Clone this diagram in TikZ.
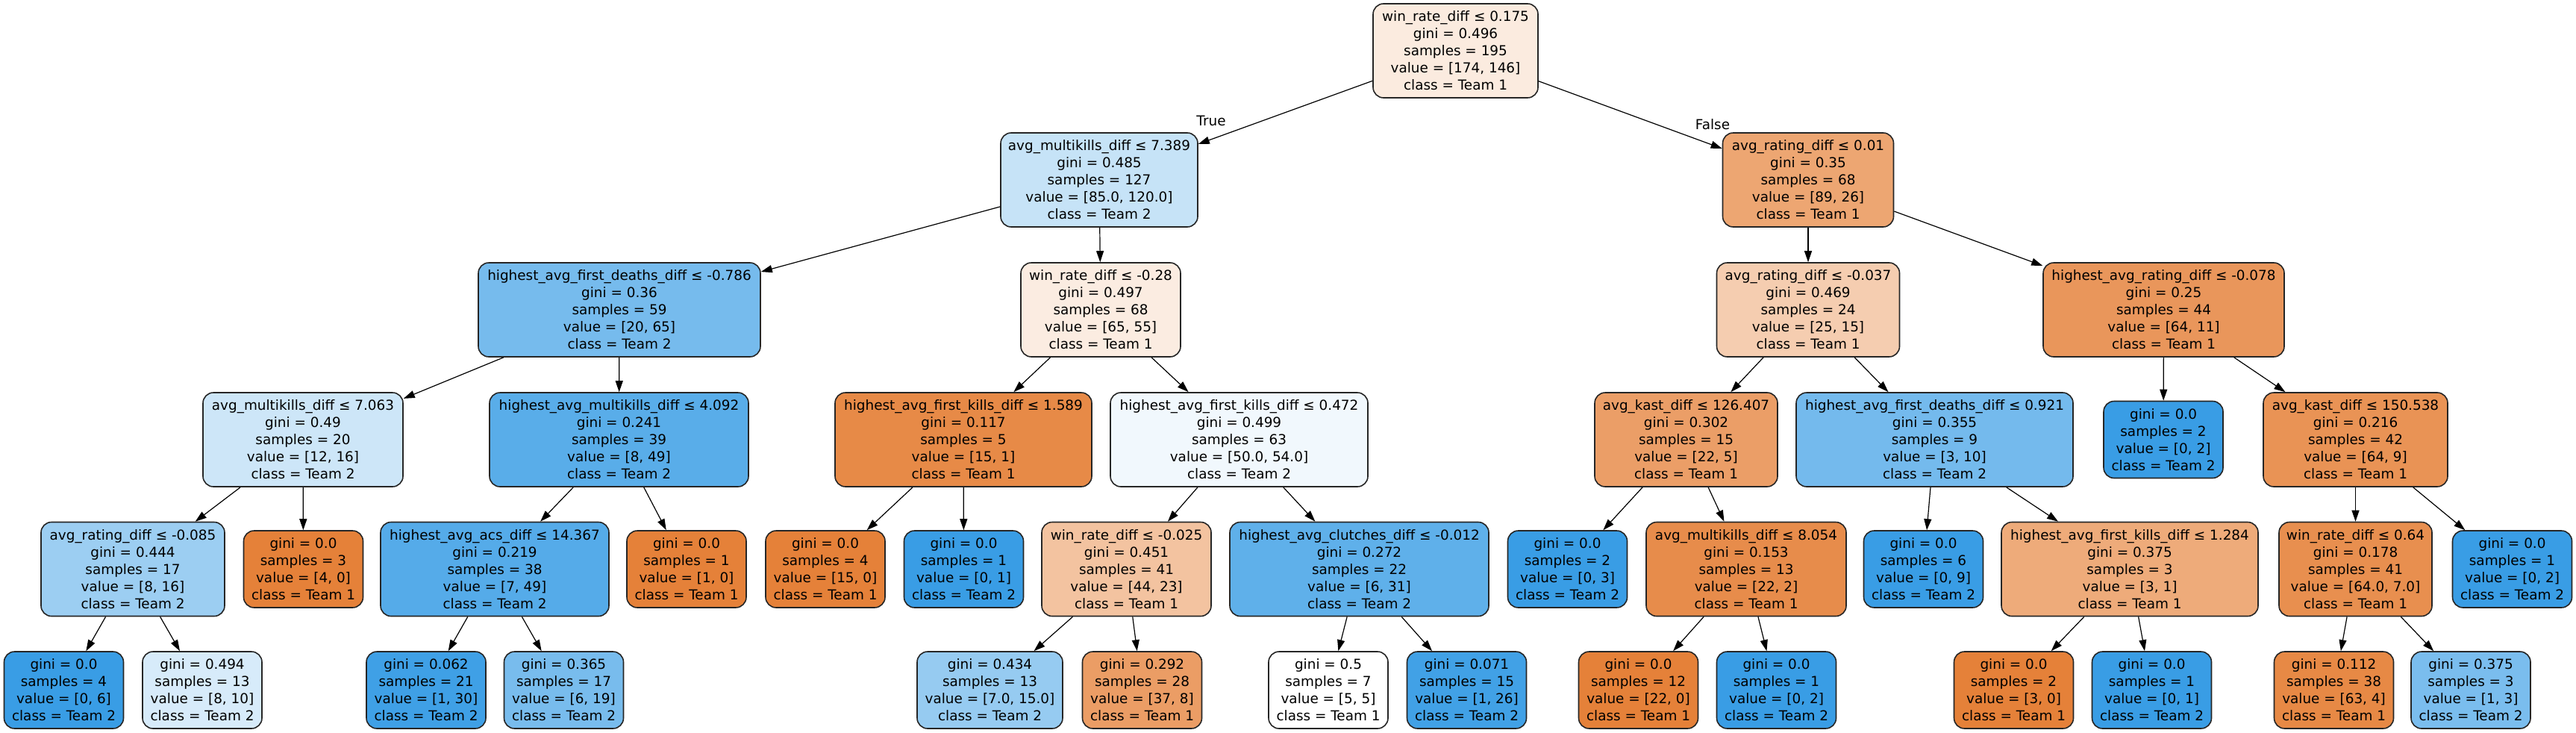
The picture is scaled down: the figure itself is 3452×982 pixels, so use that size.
\documentclass[tikz,border=0pt]{standalone}
\usepackage{fontspec}
\setmainfont{DejaVu Sans}
\usetikzlibrary{arrows.meta}
\definecolor{teamone}{RGB}{229,129,57}
\definecolor{teamtwo}{RGB}{57,157,229}
\begin{document}
\begin{tikzpicture}[x=1pt,y=-1pt,
    box/.style={draw=black!85,line width=1.6pt,rounded corners=14pt,align=center,inner sep=0pt,
      font=\fontsize{18.4pt}{23pt}\selectfont,minimum height=126pt},
    leaf/.style={box,minimum width=160pt,minimum height=103pt},
    arr/.style={line width=1.2pt,-{Triangle[length=15pt,width=10pt]}},
    lbl/.style={font=\fontsize{18.4pt}{23pt}\selectfont}]
    \fill[white] (0,0) rectangle (3452,982);
    \useasboundingbox (0,0) rectangle (3452,982);
    % depth 0
    \node[box,minimum width=221pt,fill=teamone!16!white] (n0) at (1950.5,68) {win\_rate\_diff ≤ 0.175\\gini = 0.496\\samples = 195\\value = [174, 146]\\class = Team 1};
    % depth 1
    \node[box,minimum width=264pt,fill=teamtwo!29!white] (n1) at (1473,241) {avg\_multikills\_diff ≤ 7.389\\gini = 0.485\\samples = 127\\value = [85.0, 120.0]\\class = Team 2};
    \node[box,minimum width=229pt,fill=teamone!71!white] (n2) at (2423,241) {avg\_rating\_diff ≤ 0.01\\gini = 0.35\\samples = 68\\value = [89, 26]\\class = Team 1};
    % depth 2
    \node[box,minimum width=378pt,fill=teamtwo!69!white] (n3) at (830,415) {highest\_avg\_first\_deaths\_diff ≤ -0.786\\gini = 0.36\\samples = 59\\value = [20, 65]\\class = Team 2};
    \node[box,minimum width=214pt,fill=teamone!15!white] (n4) at (1475,415) {win\_rate\_diff ≤ -0.28\\gini = 0.497\\samples = 68\\value = [65, 55]\\class = Team 1};
    \node[box,minimum width=245pt,fill=teamone!40!white] (n5) at (2423,415) {avg\_rating\_diff ≤ -0.037\\gini = 0.469\\samples = 24\\value = [25, 15]\\class = Team 1};
    \node[box,minimum width=323pt,fill=teamone!83!white] (n6) at (2899.5,415) {highest\_avg\_rating\_diff ≤ -0.078\\gini = 0.25\\samples = 44\\value = [64, 11]\\class = Team 1};
    % depth 3
    \node[box,minimum width=268pt,fill=teamtwo!25!white] (n7) at (406,589) {avg\_multikills\_diff ≤ 7.063\\gini = 0.49\\samples = 20\\value = [12, 16]\\class = Team 2};
    \node[box,minimum width=347pt,fill=teamtwo!84!white] (n8) at (829.5,589) {highest\_avg\_multikills\_diff ≤ 4.092\\gini = 0.241\\samples = 39\\value = [8, 49]\\class = Team 2};
    \node[box,minimum width=344pt,fill=teamone!93!white] (n9) at (1291,589) {highest\_avg\_first\_kills\_diff ≤ 1.589\\gini = 0.117\\samples = 5\\value = [15, 1]\\class = Team 1};
    \node[box,minimum width=345pt,fill=teamtwo!7!white] (n10) at (1660.5,589) {highest\_avg\_first\_kills\_diff ≤ 0.472\\gini = 0.499\\samples = 63\\value = [50.0, 54.0]\\class = Team 2};
    \node[box,minimum width=245pt,fill=teamone!77!white] (n11) at (2259.5,589) {avg\_kast\_diff ≤ 126.407\\gini = 0.302\\samples = 15\\value = [22, 5]\\class = Team 1};
    \node[box,minimum width=371pt,fill=teamtwo!70!white] (n12) at (2592.5,589) {highest\_avg\_first\_deaths\_diff ≤ 0.921\\gini = 0.355\\samples = 9\\value = [3, 10]\\class = Team 2};
    \node[leaf,fill=teamtwo] (n13) at (2899,589) {gini = 0.0\\samples = 2\\value = [0, 2]\\class = Team 2};
    \node[box,minimum width=247pt,fill=teamone!86!white] (n14) at (3156.5,589) {avg\_kast\_diff ≤ 150.538\\gini = 0.216\\samples = 42\\value = [64, 9]\\class = Team 1};
    % depth 4
    \node[box,minimum width=246pt,fill=teamtwo!50!white] (n15) at (178,762.5) {avg\_rating\_diff ≤ -0.085\\gini = 0.444\\samples = 17\\value = [8, 16]\\class = Team 2};
    \node[leaf,fill=teamone] (n16) at (406.5,762.5) {gini = 0.0\\samples = 3\\value = [4, 0]\\class = Team 1};
    \node[box,minimum width=306pt,fill=teamtwo!86!white] (n17) at (663,762.5) {highest\_avg\_acs\_diff ≤ 14.367\\gini = 0.219\\samples = 38\\value = [7, 49]\\class = Team 2};
    \node[leaf,fill=teamone] (n18) at (920,762.5) {gini = 0.0\\samples = 1\\value = [1, 0]\\class = Team 1};
    \node[leaf,fill=teamone] (n19) at (1106,762.5) {gini = 0.0\\samples = 4\\value = [15, 0]\\class = Team 1};
    \node[leaf,fill=teamtwo] (n20) at (1291.5,762.5) {gini = 0.0\\samples = 1\\value = [0, 1]\\class = Team 2};
    \node[box,minimum width=227pt,fill=teamone!48!white] (n21) at (1509.5,762.5) {win\_rate\_diff ≤ -0.025\\gini = 0.451\\samples = 41\\value = [44, 23]\\class = Team 1};
    \node[box,minimum width=347pt,fill=teamtwo!81!white] (n22) at (1821.5,762.5) {highest\_avg\_clutches\_diff ≤ -0.012\\gini = 0.272\\samples = 22\\value = [6, 31]\\class = Team 2};
    \node[leaf,fill=teamtwo] (n23) at (2100.5,762.5) {gini = 0.0\\samples = 2\\value = [0, 3]\\class = Team 2};
    \node[box,minimum width=268pt,fill=teamone!91!white] (n24) at (2340,762.5) {avg\_multikills\_diff ≤ 8.054\\gini = 0.153\\samples = 13\\value = [22, 2]\\class = Team 1};
    \node[leaf,fill=teamtwo] (n25) at (2577.5,762.5) {gini = 0.0\\samples = 6\\value = [0, 9]\\class = Team 2};
    \node[box,minimum width=344pt,fill=teamone!67!white] (n26) at (2854,762.5) {highest\_avg\_first\_kills\_diff ≤ 1.284\\gini = 0.375\\samples = 3\\value = [3, 1]\\class = Team 1};
    \node[box,minimum width=205pt,fill=teamone!89!white] (n27) at (3156.5,762.5) {win\_rate\_diff ≤ 0.64\\gini = 0.178\\samples = 41\\value = [64.0, 7.0]\\class = Team 1};
    \node[leaf,fill=teamtwo] (n28) at (3366.5,762.5) {gini = 0.0\\samples = 1\\value = [0, 2]\\class = Team 2};
    % depth 5
    \node[leaf,fill=teamtwo] (n29) at (85.5,924.5) {gini = 0.0\\samples = 4\\value = [0, 6]\\class = Team 2};
    \node[leaf,fill=teamtwo!20!white] (n30) at (271,924.5) {gini = 0.494\\samples = 13\\value = [8, 10]\\class = Team 2};
    \node[leaf,fill=teamtwo!97!white] (n31) at (571,924.5) {gini = 0.062\\samples = 21\\value = [1, 30]\\class = Team 2};
    \node[leaf,fill=teamtwo!68!white] (n32) at (755.5,924.5) {gini = 0.365\\samples = 17\\value = [6, 19]\\class = Team 2};
    \node[leaf,minimum width=195pt,fill=teamtwo!53!white] (n33) at (1326.5,924.5) {gini = 0.434\\samples = 13\\value = [7.0, 15.0]\\class = Team 2};
    \node[leaf,fill=teamone!78!white] (n34) at (1530.5,924.5) {gini = 0.292\\samples = 28\\value = [37, 8]\\class = Team 1};
    \node[leaf,fill=white] (n35) at (1780,924.5) {gini = 0.5\\samples = 7\\value = [5, 5]\\class = Team 1};
    \node[leaf,fill=teamtwo!96!white] (n36) at (1965.5,924.5) {gini = 0.071\\samples = 15\\value = [1, 26]\\class = Team 2};
    \node[leaf,fill=teamone] (n37) at (2195.5,924.5) {gini = 0.0\\samples = 12\\value = [22, 0]\\class = Team 1};
    \node[leaf,fill=teamtwo] (n38) at (2380.5,924.5) {gini = 0.0\\samples = 1\\value = [0, 2]\\class = Team 2};
    \node[leaf,fill=teamone] (n39) at (2698.5,924.5) {gini = 0.0\\samples = 2\\value = [3, 0]\\class = Team 1};
    \node[leaf,fill=teamtwo] (n40) at (2883.5,924.5) {gini = 0.0\\samples = 1\\value = [0, 1]\\class = Team 2};
    \node[leaf,fill=teamone!94!white] (n41) at (3127.5,924.5) {gini = 0.112\\samples = 38\\value = [63, 4]\\class = Team 1};
    \node[leaf,fill=teamtwo!67!white] (n42) at (3311,924.5) {gini = 0.375\\samples = 3\\value = [1, 3]\\class = Team 2};
    % branch labels
    \node[lbl] (truelbl) at (1623,162) {True};
    \node[lbl] (falselbl) at (2295,167) {False};
    % edges
    \draw[arr] (n0) -- (n1);
    \draw[arr] (n0) -- (n2);
    \draw[arr] (n1) -- (n3);
    \draw[arr] (n1) -- (n4);
    \draw[arr] (n2) -- (n5);
    \draw[arr] (n2) -- (n6);
    \draw[arr] (n3) -- (n7);
    \draw[arr] (n3) -- (n8);
    \draw[arr] (n4) -- (n9);
    \draw[arr] (n4) -- (n10);
    \draw[arr] (n5) -- (n11);
    \draw[arr] (n5) -- (n12);
    \draw[arr] (n6) -- (n13);
    \draw[arr] (n6) -- (n14);
    \draw[arr] (n7) -- (n15);
    \draw[arr] (n7) -- (n16);
    \draw[arr] (n8) -- (n17);
    \draw[arr] (n8) -- (n18);
    \draw[arr] (n9) -- (n19);
    \draw[arr] (n9) -- (n20);
    \draw[arr] (n10) -- (n21);
    \draw[arr] (n10) -- (n22);
    \draw[arr] (n11) -- (n23);
    \draw[arr] (n11) -- (n24);
    \draw[arr] (n12) -- (n25);
    \draw[arr] (n12) -- (n26);
    \draw[arr] (n14) -- (n27);
    \draw[arr] (n14) -- (n28);
    \draw[arr] (n15) -- (n29);
    \draw[arr] (n15) -- (n30);
    \draw[arr] (n17) -- (n31);
    \draw[arr] (n17) -- (n32);
    \draw[arr] (n21) -- (n33);
    \draw[arr] (n21) -- (n34);
    \draw[arr] (n22) -- (n35);
    \draw[arr] (n22) -- (n36);
    \draw[arr] (n24) -- (n37);
    \draw[arr] (n24) -- (n38);
    \draw[arr] (n26) -- (n39);
    \draw[arr] (n26) -- (n40);
    \draw[arr] (n27) -- (n41);
    \draw[arr] (n27) -- (n42);
\end{tikzpicture}
\end{document}
